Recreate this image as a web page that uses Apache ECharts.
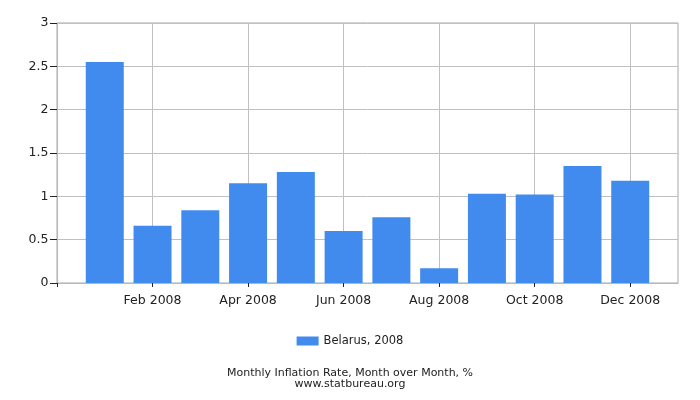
<!DOCTYPE html>
<html>
<head>
<meta charset="utf-8">
<script src="https://cdn.jsdelivr.net/npm/echarts@6/dist/echarts.min.js"></script>
<style>
  html, body { margin: 0; padding: 0; background: #fff; }
  #chart { width: 700px; height: 400px; }
</style>
</head>
<body>
<div id="chart"></div>
<script>
// months shown on the axis, padded with an empty slot on each side
var months = ['Jan 2008', 'Feb 2008', 'Mar 2008', 'Apr 2008', 'May 2008', 'Jun 2008',
              'Jul 2008', 'Aug 2008', 'Sep 2008', 'Oct 2008', 'Nov 2008', 'Dec 2008'];
var inflation = [2.55, 0.66, 0.84, 1.15, 1.28, 0.60, 0.76, 0.17, 1.03, 1.02, 1.35, 1.18];
var seriesName = 'Belarus, 2008';
var titleLines = ['Monthly Inflation Rate, Month over Month, %', 'www.statbureau.org'];

var font = 'DejaVu Sans';

var chart = echarts.init(document.getElementById('chart'), null, { renderer: 'canvas' });

var option = {
    animation: false,
    textStyle: { fontFamily: font },
    grid: {
        left: 57,
        right: 22,
        top: 23,
        bottom: 117,
        show: true,
        borderColor: '#a8a8a8',
        borderWidth: 1
    },
    title: {
        text: titleLines.join('\n'),
        left: 'center',
        top: 363,
        textStyle: {
            fontFamily: font,
            fontSize: 11,
            fontWeight: 'normal',
            lineHeight: 11,
            color: '#222'
        }
    },
    legend: {
        data: [seriesName],
        icon: 'rect',
        left: 'center',
        top: 330,
        itemWidth: 22,
        itemHeight: 9,
        itemGap: 6,
        textStyle: { fontFamily: font, fontSize: 11.5, color: '#222' }
    },
    xAxis: {
        type: 'category',
        boundaryGap: false,
        data: [''].concat(months, ['']),
        axisLine: { lineStyle: { color: '#b8b8b8' } },
        axisTick: { interval: 1, length: 4, lineStyle: { color: '#222' } },
        axisLabel: {
            interval: 1,
            fontFamily: font,
            fontSize: 12.5,
            color: '#222',
            margin: 11
        },
        splitLine: { show: true, interval: 1, lineStyle: { color: '#c0c0c0' } }
    },
    yAxis: {
        type: 'value',
        min: 0,
        max: 3,
        interval: 0.5,
        axisLine: { show: true, lineStyle: { color: '#b8b8b8' } },
        axisTick: { show: true, length: 7, lineStyle: { color: '#222' } },
        axisLabel: { fontFamily: font, fontSize: 12.5, color: '#222', margin: 8.5 },
        splitLine: { show: true, lineStyle: { color: '#c0c0c0' } }
    },
    series: [{
        name: seriesName,
        type: 'bar',
        data: [null].concat(inflation, [null]),
        barWidth: 38,
        itemStyle: { color: '#428bee' }
    }]
};

chart.setOption(option);
</script>
</body>
</html>
